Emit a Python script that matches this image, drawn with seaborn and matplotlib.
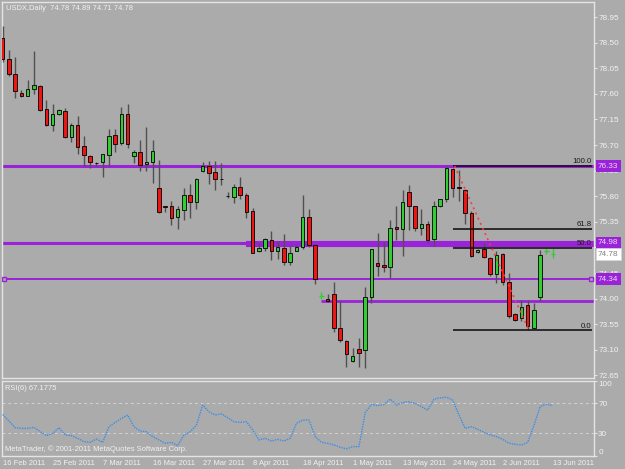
import matplotlib
matplotlib.use("Agg")
import matplotlib.pyplot as plt
import matplotlib.transforms as mtransforms
import numpy as np
import pandas as pd
import seaborn as sns

# ---------------- data ----------------
opens = [78.58, 78.21, 77.94, 77.61, 77.57, 77.68, 77.74, 77.33, 77.05, 77.24,
         77.30, 76.84, 77.05, 76.68, 76.50, 76.385, 76.40, 76.52, 76.87, 76.74,
         77.24, 76.50, 76.58, 76.37, 76.41, 75.94, 75.62, 75.63, 75.44, 75.56,
         75.83, 75.69, 76.25, 76.34, 76.22, 76.105, 75.805, 75.79, 75.96, 75.83,
         75.54, 74.83, 74.89, 75.03, 74.84, 74.89, 74.65, 74.84, 74.91, 75.43,
         74.94, 74.05, 73.99, 74.08, 73.48, 73.26, 72.91, 73.12, 73.10, 74.02,
         74.63, 74.59, 74.55, 75.26, 75.22, 75.88, 75.62, 75.25, 75.32, 75.04,
         75.62, 75.76, 76.28, 75.955, 75.91, 75.51, 74.82, 74.87, 74.71, 74.44,
         74.78, 74.30, 73.73, 73.66, 73.88, 73.49, 74.02, 74.83, 74.78]
highs = [78.79, 78.37, 78.25, 77.66, 77.84, 78.36, 77.76, 77.50, 77.42, 77.33,
         77.35, 77.09, 77.21, 76.86, 76.52, 76.41, 76.55, 76.98, 76.99, 77.36,
         77.42, 76.61, 76.79, 77.01, 76.79, 76.44, 75.63, 75.72, 75.62, 75.95,
         76.01, 76.12, 76.41, 76.42, 76.42, 76.39, 75.88, 76.01, 76.13, 75.85,
         75.59, 74.97, 75.07, 75.19, 75.01, 75.13, 74.94, 74.94, 75.82, 75.58,
         74.96, 74.12, 74.09, 74.29, 73.96, 73.28, 73.14, 73.30, 74.21, 74.88,
         75.15, 74.99, 75.39, 75.63, 75.91, 76.00, 75.63, 75.57, 75.36, 75.72,
         75.76, 76.34, 76.29, 76.26, 75.92, 75.54, 74.87, 74.98, 74.74, 74.83,
         74.80, 74.45, 73.74, 73.98, 73.98, 73.92, 74.86, 74.89, 74.89]
lows = [78.16, 77.91, 77.52, 77.54, 77.56, 77.60, 77.30, 77.03, 76.95, 77.23,
        76.83, 76.75, 76.54, 76.34, 76.29, 76.34, 76.13, 76.33, 76.57, 76.70,
        76.64, 76.38, 76.25, 76.24, 76.03, 75.51, 75.53, 75.29, 75.22, 75.39,
        75.42, 75.58, 76.23, 76.01, 75.91, 75.99, 75.77, 75.68, 75.76, 75.42,
        74.80, 74.82, 74.84, 74.68, 74.69, 74.59, 74.59, 74.83, 74.87, 74.91,
        74.26, 73.99, 73.94, 73.42, 73.24, 72.80, 72.88, 72.80, 72.78, 73.92,
        74.39, 74.47, 74.36, 75.03, 74.75, 75.21, 75.19, 75.12, 74.98, 74.93,
        75.61, 75.69, 75.79, 75.72, 75.31, 74.73, 74.81, 74.71, 74.40, 74.27,
        74.24, 73.66, 73.61, 73.61, 73.45, 73.47, 73.95, 74.78, 74.71]
closes = [78.21, 77.94, 77.65, 77.56, 77.68, 77.75, 77.31, 77.06, 77.24, 77.32,
          76.84, 77.06, 76.67, 76.52, 76.40, 76.38, 76.54, 76.86, 76.72, 77.24,
          76.72, 76.57, 76.35, 76.41, 76.59, 75.53, 75.61, 75.42, 75.58, 75.83,
          75.69, 76.10, 76.34, 76.20, 76.10, 76.10, 75.80, 75.97, 75.83, 75.53,
          74.81, 74.89, 75.04, 74.84, 74.90, 74.65, 74.81, 74.91, 75.44, 74.94,
          74.34, 74.05, 73.95, 73.48, 73.27, 73.03, 72.99, 73.04, 74.02, 74.87,
          74.57, 74.55, 75.25, 75.22, 75.69, 75.62, 75.24, 75.32, 75.03, 75.63,
          75.75, 76.29, 75.95, 75.95, 75.50, 74.75, 74.86, 74.73, 74.43, 74.77,
          74.29, 73.70, 73.62, 73.86, 73.52, 73.80, 74.77, 74.83, 74.78]
rsi = [55.3, 46.5, 37.6, 36.7, 36.7, 38.0, 32.3, 26.9, 30.0, 37.6,
       27.8, 26.9, 23.4, 18.9, 18.0, 22.5, 18.0, 38.9, 44.7, 50.0,
       54.5, 38.9, 33.1, 32.2, 25.6, 21.2, 16.7, 18.0, 13.6, 27.8,
       32.2, 41.1, 67.8, 58.9, 54.5, 56.2, 50.9, 45.6, 44.7, 45.6,
       34.5, 21.2, 23.4, 19.8, 22.0, 19.8, 23.4, 43.4, 47.8, 47.8,
       25.6, 18.0, 16.7, 14.5, 11.4, 9.2, 12.3, 12.3, 58.0, 68.7,
       66.9, 68.7, 75.8, 67.8, 71.3, 72.2, 70.0, 65.6, 61.1, 75.8,
       77.5, 78.4, 74.4, 54.5, 36.7, 38.9, 35.4, 31.4, 27.8, 25.6,
       22.0, 16.7, 15.4, 14.5, 18.0, 41.1, 66.0, 69.0, 67.2]

date_pos = [0, 8, 16, 24, 32, 40, 48, 56, 64, 72, 80, 88]
date_labels = ["16 Feb 2011", "25 Feb 2011", "7 Mar 2011", "16 Mar 2011",
               "27 Mar 2011", "8 Apr 2011", "18 Apr 2011", "1 May 2011",
               "13 May 2011", "24 May 2011", "2 Jun 2011", "13 Jun 2011"]
price_ticks = [78.95, 78.50, 78.05, 77.60, 77.15, 76.70, 76.25, 75.80,
               75.35, 74.90, 74.45, 74.00, 73.55, 73.10, 72.65]
rsi_ticks = [0, 30, 70, 100]
rsi_levels = [30, 70]

level_full = [76.33, 74.98, 74.34]      # purple horizontal lines (full width)
level_band = 74.955                     # thick band right part
level_low = 73.96                       # purple line right part
fib_prices = [76.33, 75.23, 74.885, 73.44]
fib_labels = ["100.0", "61.8", "50.0", "0.0"]
trend_x = [72.3, 84.2]
trend_y = [76.33, 73.44]
header = "USDX,Daily  74.78 74.89 74.71 74.78"

# ---------------- style ----------------
sns.set_style("white")
plt.rcParams['font.family'] = ['Liberation Sans', 'DejaVu Sans']

BG = '#ababab'
FG = '#f2f2f2'
BORDER = '#e4e4e4'
UP = '#33cc33'
DOWN = '#ee1515'
WICK = '#505050'
PURPLE = '#9a22d8'
RSI_C = '#3a8ee6'

W, H = 625, 469
fig = plt.figure(figsize=(6.25, 4.69), dpi=100, facecolor=BG)
ax = fig.add_axes([2 / W, (H - 378) / H, 592 / W, 376 / H], facecolor=BG)
ax2 = fig.add_axes([2 / W, (H - 455.8) / H, 592 / W, 74.8 / H], facecolor=BG)

df = pd.DataFrame({'i': np.arange(len(closes)), 'o': opens, 'h': highs,
                   'l': lows, 'c': closes, 'rsi': rsi})

xmin, xmax = -0.11, 94.6

# ---------------- horizontal objects ----------------
for lv in level_full:
    lw = 1.4 if lv == 74.34 else 2.2
    ax.axhline(lv, color=PURPLE, lw=lw, zorder=2)
ax.hlines(level_band, 39.0, xmax, color=PURPLE, lw=4.4, zorder=2)
ax.hlines(level_low, 50.9, xmax, color=PURPLE, lw=2.0, zorder=2)
ax.plot([0.2, 94.1], [74.34, 74.34], ls='none', marker='s', ms=3.2,
        mfc=BG, mec=PURPLE, mew=1.0, zorder=3)

# fibonacci
for fp, fl in zip(fib_prices, fib_labels):
    ax.hlines(fp, 72.0, 94.3, color='#151515', lw=1.2, zorder=6)
    ax.text(94.2, fp + 0.015, fl, ha='right', va='bottom', fontsize=5.6,
            color='#1a1a1a', zorder=7)
ax.plot(trend_x, trend_y, color='#ff3a3a', lw=1.2, ls=(0, (1.2, 2.2)), zorder=6)

# ---------------- candles ----------------
doji = df[df.o == df.c]
body = df[df.o != df.c]
wick_colors = [UP if o == c else WICK for o, c in zip(df.o, df.c)]
ax.vlines(df.i, df.l, df.h, colors=wick_colors, lw=1.0, zorder=4)
ax.bar(body.i, (body.c - body.o).abs(), bottom=np.minimum(body.o, body.c),
       width=0.56, color=[UP if c > o else DOWN for o, c in zip(body.o, body.c)],
       edgecolor='black', linewidth=0.6, zorder=5)
ax.hlines(doji.c, doji.i - 0.35, doji.i + 0.35, colors=UP, lw=1.0, zorder=5)

ax.set_xlim(xmin, xmax)
ax.set_ylim(72.605, 79.214)
ax.set_xticks([])
ax.yaxis.tick_right()
ax.set_yticks(price_ticks, [f"{p:.2f}" for p in price_ticks])
ax.tick_params(axis='y', length=2, width=0.8, color=BORDER, labelcolor=FG,
               labelsize=5.9, pad=1)
for s in ax.spines.values():
    s.set_color(BORDER)
    s.set_linewidth(1.0)

ax.text(4 / 592, (378 - 8.3) / 376, header, transform=ax.transAxes,
        ha='left', va='center', fontsize=5.4, color=FG)

# right-axis value boxes
tr = mtransforms.blended_transform_factory(ax.transAxes, ax.transData)
for val, fc, tc in [(76.33, PURPLE, '#eadcf5'), (74.98, PURPLE, '#eadcf5'),
                    (74.78, '#ffffff', '#808080'), (74.34, PURPLE, '#eadcf5')]:
    ax.text(1.0068, val, f"{val:.2f}", transform=tr, ha='left', va='center',
            fontsize=5.9, color=tc, clip_on=False, zorder=20,
            bbox=dict(boxstyle='square,pad=0.28', fc=fc, ec='#d8d8d8' if fc == '#ffffff' else 'none', lw=0.5))

# ---------------- RSI panel ----------------
for lv in rsi_levels:
    ax2.axhline(lv, color='#d2d2d2', lw=0.7, ls=(0, (3, 3)), zorder=1)
sns.lineplot(data=df, x='i', y='rsi', ax=ax2, color=RSI_C, lw=1.0,
             linestyle=(0, (1, 0.8)), zorder=3)
ax2.set_xlabel('')
ax2.set_ylabel('')
ax2.set_xlim(xmin, xmax)
ax2.set_ylim(0, 100)
ax2.yaxis.tick_right()
ax2.set_yticks(rsi_ticks, [str(t) for t in rsi_ticks])
ax2.tick_params(axis='y', length=2, width=0.8, color=BORDER, labelcolor=FG,
                labelsize=5.9, pad=1)
for lab, t in zip(ax2.get_yticklabels(), rsi_ticks):
    if t == 100:
        lab.set_va('top')
    elif t == 0:
        lab.set_va('bottom')
ax2.set_xticks(date_pos, date_labels, ha='left')
ax2.tick_params(axis='x', length=3, width=0.8, color=BORDER, labelcolor=FG,
                labelsize=5.4, pad=0)
for s in ax2.spines.values():
    s.set_color(BORDER)
    s.set_linewidth(1.0)

ax2.text(3 / 592, 0.902, "RSI(6) 67.1775", transform=ax2.transAxes,
         ha='left', va='center', fontsize=5.4, color=FG)
ax2.text(3 / 592, 0.087, "MetaTrader, \u00a9 2001-2011 MetaQuotes Software Corp.",
         transform=ax2.transAxes, ha='left', va='center', fontsize=5.4, color=FG)

fig.savefig("out.png", dpi=100, facecolor=BG)
